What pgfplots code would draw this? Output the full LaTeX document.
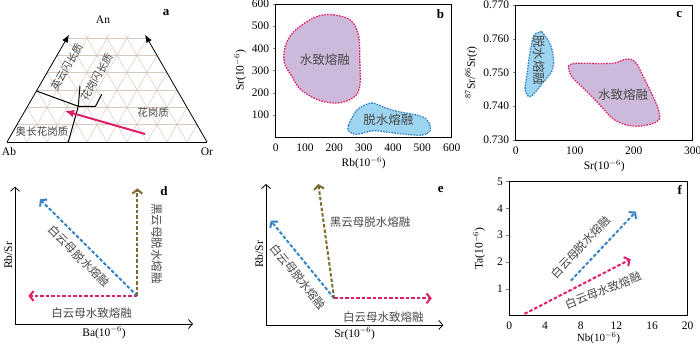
\documentclass[border=0pt]{standalone}
\usepackage{fontspec}
\setmainfont{Liberation Serif}
\newfontfamily\cjk{Noto Sans CJK SC}
\usepackage{pgfplots}
\pgfplotsset{compat=1.18}
\usetikzlibrary{arrows.meta}
\definecolor{pinkr}{HTML}{E01F6B}
\definecolor{blueb}{HTML}{3584C8}
\definecolor{brownd}{HTML}{7E6A2C}
\definecolor{lilac}{HTML}{CDBADA}
\definecolor{skyf}{HTML}{9DD4EF}
\definecolor{gridt}{HTML}{D8C9BC}
\newcommand{\zha}[1]{{\cjk\fontsize{10.5}{12}\selectfont\color{black!72}#1}}
\newcommand{\zh}[1]{{\cjk\fontsize{11.5}{12}\selectfont\color{black!72}#1}}
\newcommand{\zhb}[1]{{\cjk\fontsize{12.5}{13}\selectfont\color{black!72}#1}}

\tikzset{lett/.style={font=\fontsize{13}{14}\selectfont\bfseries},
  latn/.style={font=\fontsize{11.5}{13}\selectfont}}
\pgfplotsset{
  panel/.style={scale only axis, anchor=south west, clip=false,
    font=\fontsize{11.5}{13}\selectfont,
    /pgf/number format/assume math mode=true,
    tick align=outside, xtick pos=bottom, ytick pos=left,
    major tick length=3pt, axis line style={line width=0.7pt},
    x tick style={draw=none}},
  trend/.style={scale only axis, anchor=south west, clip=false,
    font=\fontsize{11.5}{13}\selectfont,
    axis lines=left, xtick=\empty, ytick=\empty,
    xmin=0, xmax=1, ymin=0, ymax=1,
    every outer x axis line/.append style={line width=0.8pt,-{Straight Barb[length=4pt,width=9pt]}},
    every outer y axis line/.append style={line width=0.8pt,-{Straight Barb[length=4pt,width=9pt]}}},
  arr/.style={line width=2pt, dash pattern=on 3.5pt off 2pt,
    -{Straight Barb[length=4pt,width=10pt]}},
  gl/.style={gridt, line width=0.5pt},
  blob/.style={line width=1.3pt, dash pattern=on 1.6pt off 1.2pt, smooth, tension=0.6},
}

\begin{document}
\begin{tikzpicture}
\useasboundingbox (0,0) rectangle (700pt,345pt);

% ---- a: truncated Ab-An-Or ternary
\begin{axis}[scale only axis, anchor=south west, at={(7pt,203pt)}, width=200pt, height=110pt,
  xmin=0, xmax=10, ymin=0, ymax=5.5, hide axis, clip=false]
  % constant An
  \addplot[gl] coordinates {(0.5,0.866)(9.5,0.866)};
  \addplot[gl] coordinates {(1,1.732)(9,1.732)};
  \addplot[gl] coordinates {(1.5,2.598)(8.5,2.598)};
  \addplot[gl] coordinates {(2,3.464)(8,3.464)};
  \addplot[gl] coordinates {(2.5,4.33)(7.5,4.33)};
  \addplot[gl] coordinates {(3,5.196)(7,5.196)};
  % parallel to Ab-An
  \addplot[gl] coordinates {(1,0)(4.1,5.369)};
  \addplot[gl] coordinates {(2,0)(5.1,5.369)};
  \addplot[gl] coordinates {(3,0)(6.1,5.369)};
  \addplot[gl] coordinates {(4,0)(7,5.196)};
  \addplot[gl] coordinates {(5,0)(7.5,4.33)};
  \addplot[gl] coordinates {(6,0)(8,3.464)};
  \addplot[gl] coordinates {(7,0)(8.5,2.598)};
  \addplot[gl] coordinates {(8,0)(9,1.732)};
  \addplot[gl] coordinates {(9,0)(9.5,0.866)};
  % parallel to Or-An
  \addplot[gl] coordinates {(1,0)(0.5,0.866)};
  \addplot[gl] coordinates {(2,0)(1,1.732)};
  \addplot[gl] coordinates {(3,0)(1.5,2.598)};
  \addplot[gl] coordinates {(4,0)(2,3.464)};
  \addplot[gl] coordinates {(5,0)(2.5,4.33)};
  \addplot[gl] coordinates {(6,0)(3,5.196)};
  \addplot[gl] coordinates {(7,0)(3.9,5.369)};
  \addplot[gl] coordinates {(8,0)(4.9,5.369)};
  \addplot[gl] coordinates {(9,0)(5.9,5.369)};
  % frame
  \addplot[black, line width=0.8pt] coordinates {(0,0)(10,0)};
  \addplot[black, line width=0.8pt, -{Latex[length=8pt,width=6pt]}] coordinates {(0,0)(3.1,5.37)};
  \addplot[black, line width=0.8pt, -{Latex[length=8pt,width=6pt]}] coordinates {(10,0)(6.9,5.37)};
  % field boundaries
  \addplot[black, line width=1pt] coordinates {(1.47,2.55)(3.565,1.785)(3.65,2.8)};
  \addplot[black, line width=1pt] coordinates {(3.565,1.785)(3.065,0)};
  \addplot[black, line width=1pt] coordinates {(3.565,1.785)(4.425,1.785)(4.735,2.385)};
  % trend
  \addplot[pinkr, line width=2pt, -{Latex[length=9pt,width=8pt]}] coordinates {(6.9,0.4)(2.9,1.55)};
  \node[latn] at (axis cs:4.8,6.1) {An};
  \node[lett] at (axis cs:7.95,6.45) {a};
  \node[latn] at (axis cs:0.1,-0.5) {Ab};
  \node[latn] at (axis cs:10,-0.5) {Or};
  \node[rotate=60] at (axis cs:3.0,3.75) {\zha{英云闪长质}};
  \node[rotate=60] at (axis cs:4.5,3.25) {\zha{花岗闪长质}};
  \node at (axis cs:7.3,1.45) {\zha{花岗质}};
  \node at (axis cs:1.75,0.5) {\zha{奥长花岗质}};
\end{axis}

% ---- b: Rb vs Sr
\begin{axis}[panel, at={(275.7pt,208pt)}, width=176pt, height=133pt,
  xmin=0, xmax=600, ymin=0, ymax=600,
  xtick={0,100,...,600}, ytick={100,200,...,600},
  xlabel={Rb(10$^{-6}$)}, ylabel={Sr(10$^{-6}$)},
  xlabel style={yshift=1pt}, ylabel style={yshift=-1pt}]
  \addplot[blob, fill=lilac, draw=pinkr] coordinates {(197,551)(253,529)(282,460)(287,333)(287,231)(265,178)(208,153)(140,170)(83,217)(55,274)(30,333)(32,407)(60,473)(117,529)(162,551)(197,551)} -- cycle;
  \addplot[blob, fill=skyf, draw=blueb] coordinates {(248,53)(276,120)(322,153)(350,145)(401,120)(492,95)(520,70)(526,28)(492,8)(390,20)(333,28)(276,12)(248,28)(248,53)} -- cycle;
  \node at (axis cs:168,348) {\zhb{水致熔融}};
  \node at (axis cs:384,78) {\zhb{脱水熔融}};
  \node[lett] at (axis cs:562,555) {b};
\end{axis}

% ---- c: Sr vs 87Sr/86Sr(t)
\begin{axis}[panel, at={(515.7pt,205pt)}, width=177pt, height=135pt,
  xmin=0, xmax=300, ymin=0.73, ymax=0.77,
  xtick={0,100,200,300}, ytick={0.73,0.74,...,0.77},
  yticklabel style={/pgf/number format/.cd, fixed, fixed zerofill, precision=3},
  xlabel={Sr(10$^{-6}$)}, ylabel={\textsuperscript{87}Sr/\textsuperscript{86}Sr(\textit{t})},
  xlabel style={yshift=1pt}, ylabel style={yshift=-1pt}]
  \addplot[blob, fill=skyf, draw=blueb] coordinates {(44,0.7621)(58,0.7586)(64,0.7542)(62,0.7507)(50,0.7478)(36,0.7448)(24,0.7428)(16,0.7448)(19,0.7493)(24,0.7557)(30,0.7606)(37,0.7618)(44,0.7621)} -- cycle;
  \addplot[blob, fill=lilac, draw=pinkr] coordinates {(89,0.7517)(101,0.7527)(163,0.7527)(185,0.7539)(202,0.7532)(219,0.7478)(242,0.7389)(239,0.7354)(202,0.7341)(168,0.7359)(140,0.7409)(118,0.7448)(95,0.7488)(89,0.7517)} -- cycle;
  \node[rotate=-90] at (axis cs:40,0.7537) {\zhb{脱水熔融}};
  \node at (axis cs:182,0.7433) {\zhb{水致熔融}};
  \node[lett] at (axis cs:277,0.7673) {c};
\end{axis}

% ---- d: Ba vs Rb/Sr
\begin{axis}[trend, at={(15pt,21pt)}, width=178pt, height=137.3pt,
  xlabel={Ba(10$^{-6}$)}, ylabel={Rb/Sr},
  xlabel style={yshift=3pt}, ylabel style={yshift=-3pt}]
  \addplot[arr, pinkr] coordinates {(0.687,0.204)(0.075,0.204)};
  \addplot[arr, blueb] coordinates {(0.687,0.204)(0.140,0.908)};
  \addplot[arr, brownd] coordinates {(0.687,0.204)(0.687,0.988)};
  \node[rotate=-45] at (axis cs:0.36,0.495) {\zh{白云母脱水熔融}};
  \node[rotate=-90] at (axis cs:0.796,0.588) {\zh{黑云母脱水熔融}};
  \node at (axis cs:0.431,0.082) {\zh{白云母水致熔融}};
  \node[lett] at (axis cs:0.837,0.971) {d};
\end{axis}

% ---- e: Sr vs Rb/Sr
\begin{axis}[trend, at={(266pt,20pt)}, width=177.3pt, height=141pt,
  xlabel={Sr(10$^{-6}$)}, ylabel={Rb/Sr},
  xlabel style={yshift=3pt}, ylabel style={yshift=-3pt}]
  \addplot[arr, pinkr] coordinates {(0.384,0.189)(0.935,0.189)};
  \addplot[arr, blueb] coordinates {(0.384,0.189)(0.027,0.740)};
  \addplot[arr, brownd] coordinates {(0.384,0.189)(0.295,1.0)};
  \node at (axis cs:0.587,0.733) {\zh{黑云母脱水熔融}};
  \node[rotate=-51] at (axis cs:0.182,0.343) {\zh{白云母脱水熔融}};
  \node at (axis cs:0.662,0.059) {\zh{白云母水致熔融}};
  \node[lett] at (axis cs:0.985,0.962) {e};
\end{axis}

% ---- f: Nb vs Ta
\begin{axis}[panel, at={(509.3pt,29.5pt)}, width=178.4pt, height=134pt,
  xmin=0, xmax=20, ymin=0, ymax=5,
  xtick={0,4,...,20}, ytick={1,2,...,5},
  xlabel={Nb(10$^{-6}$)}, ylabel={Ta(10$^{-6}$)},
  xlabel style={yshift=4pt, font=\fontsize{11}{12}\selectfont}, ylabel style={yshift=5pt}]
  \addplot[arr, pinkr] coordinates {(1.7,0.06)(13.6,2.1)};
  \addplot[arr, blueb] coordinates {(6.9,1.3)(14.2,3.875)};
  \node[rotate=46.6] at (axis cs:8.0,2.56) {\zh{白云母脱水熔融}};
  \node[rotate=21.4] at (axis cs:10.5,0.94) {\zh{白云母水致熔融}};
  \node[lett] at (axis cs:19.1,4.7) {f};
\end{axis}
\end{tikzpicture}
\end{document}
